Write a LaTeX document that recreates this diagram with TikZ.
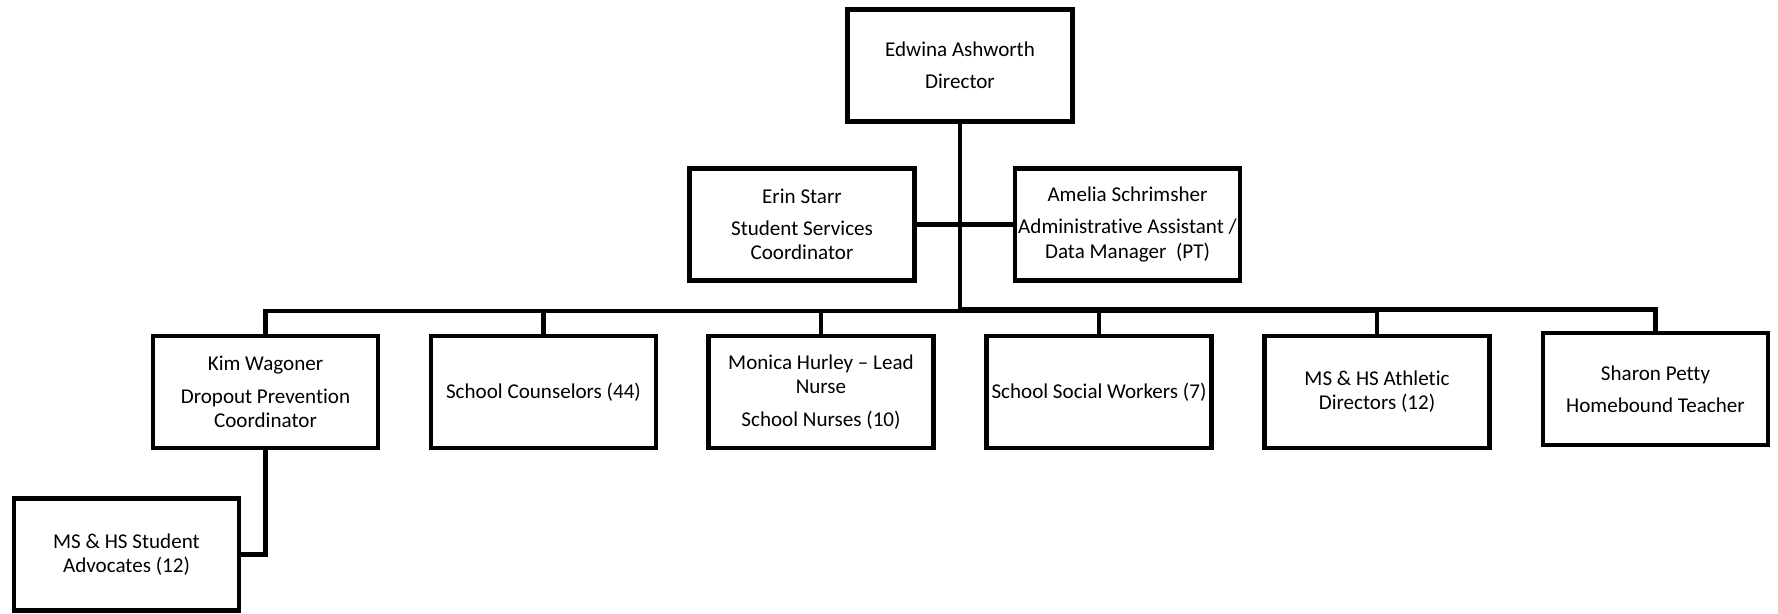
\documentclass[tikz,border=0pt]{standalone}
\usepackage{fontspec}
\setmainfont{Carlito}[Ligatures={TeX,NoCommon}]
\usetikzlibrary{positioning}

\begin{document}
\begin{tikzpicture}[x=0.02cm, y=-0.02cm,
      box/.style={draw=black, line width=2.6pt, minimum width=4.5cm,
                  minimum height=2.24cm, inner sep=0pt, align=center,
                  font=\fontsize{12}{13.8}\selectfont},
      conn/.style={line width=2.8pt}
    ]
  \useasboundingbox (0,0) rectangle (1778,614);

  \node[box] (dir) at (960,65.5) {Edwina Ashworth\\[4.5pt]Director};
  \node[box] (erin) at (802,224.5) {Erin Starr\\[4.5pt]Student Services\\Coordinator};
  \node[box] (amelia) at (1127.5,224.5) {Amelia Schrimsher\\[4.5pt]Administrative Assistant /\\Data Manager\ \ (PT)};

  \node[box] (kim) at (265.5,392) {Kim Wagoner\\[4.5pt]Dropout Prevention\\Coordinator};
  \node[box] (couns) at (543.5,392) {School Counselors (44)};
  \node[box] (nurse) at (821,392) {Monica Hurley – Lead\\Nurse\\[4.5pt]School Nurses (10)};
  \node[box] (social) at (1099,392) {School Social Workers (7)};
  \node[box] (athl) at (1377,392) {MS \& HS Athletic\\Directors (12)};
  \node[box] (sharon) at (1655.5,389) {Sharon Petty\\[4.5pt]Homebound Teacher};
  \node[box] (advoc) at (126.5,554.5) {MS \& HS Student\\Advocates (12)};

  \coordinate (hub) at (960,311);
  \coordinate (hubr) at (960,309.5);

  \draw[conn] (dir.south) -- (hub);
  \draw[conn] (erin.east) -- (amelia.west);
  \foreach \n in {kim,couns,nurse,social,athl}
    \draw[conn] (hub) -| (\n.north);
  \draw[conn] (hubr) -| (sharon.north);
  \draw[conn] (kim.south) |- (advoc.east);
\end{tikzpicture}
\end{document}
